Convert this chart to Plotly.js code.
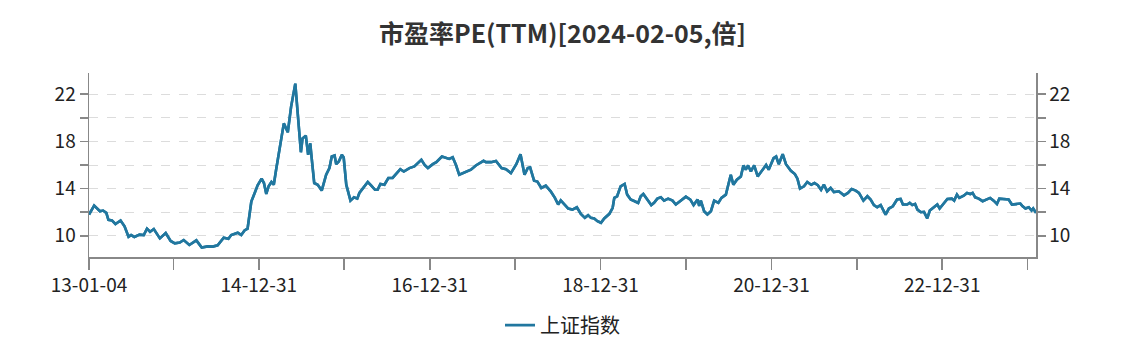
<!DOCTYPE html>
<html>
<head>
<meta charset="utf-8">
<script src="https://cdn.plot.ly/plotly-3.0.1.min.js"></script>
<style>html,body{margin:0;padding:0;background:#fff;}#chart{width:1125px;height:358px;}</style>
</head>
<body>
<div id="chart"></div>
<script>
const dates = [
"2013-01-04","2013-01-26","2013-02-20","2013-03-05","2013-03-19","2013-03-28","2013-04-12","2013-04-27","2013-05-19","2013-06-05",
"2013-06-22","2013-07-03","2013-07-17","2013-08-08","2013-08-26","2013-09-09","2013-09-22","2013-10-08","2013-11-03","2013-11-28",
"2013-12-19","2014-01-06","2014-01-27","2014-02-13","2014-03-09","2014-04-08","2014-05-01","2014-05-26","2014-06-17","2014-07-08",
"2014-08-03","2014-08-23","2014-09-04","2014-10-02","2014-10-17","2014-10-31","2014-11-13","2014-11-29","2014-12-13","2014-12-26",
"2015-01-12","2015-01-22","2015-02-01","2015-02-11","2015-02-23","2015-03-05","2015-03-15","2015-04-03","2015-04-17","2015-05-04",
"2015-05-18","2015-06-05","2015-06-15","2015-06-29","2015-07-06","2015-07-20","2015-07-30","2015-08-08","2015-08-14","2015-08-25",
"2015-09-09","2015-09-26","2015-10-15","2015-10-29","2015-11-08","2015-11-20","2015-11-27","2015-12-08","2015-12-21","2015-12-29",
"2016-01-09","2016-01-27","2016-02-11","2016-02-25","2016-03-05","2016-03-15","2016-04-10","2016-04-24","2016-05-11","2016-05-22",
"2016-06-03","2016-06-20","2016-07-07","2016-07-25","2016-08-16","2016-08-27","2016-09-11","2016-10-05","2016-10-26","2016-11-25",
"2016-12-09","2016-12-23","2017-01-13","2017-01-28","2017-02-21","2017-03-10","2017-03-24","2017-04-08","2017-04-22","2017-05-06",
"2017-05-27","2017-06-11","2017-06-25","2017-07-16","2017-08-04","2017-08-18","2017-08-28","2017-09-19","2017-10-10","2017-10-24",
"2017-11-03","2017-11-22","2017-12-13","2018-01-05","2018-01-23","2018-02-09","2018-02-23","2018-03-05","2018-03-22","2018-04-05",
"2018-04-22","2018-05-11","2018-06-01","2018-06-19","2018-07-03","2018-07-14","2018-07-31","2018-08-15","2018-09-02","2018-09-21",
"2018-10-08","2018-10-25","2018-11-08","2018-11-20","2018-12-04","2018-12-18","2019-01-02","2019-01-16","2019-02-07","2019-02-21",
"2019-02-28","2019-03-12","2019-03-27","2019-04-13","2019-04-24","2019-05-09","2019-05-26","2019-06-10","2019-06-21","2019-07-02",
"2019-07-19","2019-08-05","2019-08-17","2019-08-31","2019-09-15","2019-09-29","2019-10-16","2019-11-04","2019-11-18","2019-12-10",
"2019-12-31","2020-01-19","2020-02-02","2020-02-19","2020-02-26","2020-03-04","2020-03-18","2020-04-01","2020-04-16","2020-04-30",
"2020-05-18","2020-05-31","2020-06-19","2020-06-26","2020-07-10","2020-07-21","2020-08-05","2020-08-22","2020-09-02","2020-09-12",
"2020-09-22","2020-10-04","2020-10-18","2020-11-02","2020-11-16","2020-12-08","2020-12-19","2021-01-09","2021-01-20","2021-01-31",
"2021-02-17","2021-03-03","2021-03-24","2021-04-10","2021-04-21","2021-05-02","2021-05-19","2021-06-02","2021-06-19","2021-07-03",
"2021-07-17","2021-07-31","2021-08-12","2021-08-26","2021-09-10","2021-09-24","2021-10-15","2021-11-06","2021-11-23","2021-12-09",
"2021-12-26","2022-01-09","2022-01-28","2022-02-14","2022-02-28","2022-03-14","2022-03-28","2022-04-12","2022-05-03","2022-05-17",
"2022-06-03","2022-06-21","2022-07-06","2022-07-16","2022-08-03","2022-08-14","2022-08-25","2022-09-06","2022-09-16","2022-10-01",
"2022-10-14","2022-10-28","2022-11-08","2022-11-22","2022-12-10","2022-12-20","2023-01-08","2023-01-22","2023-02-10","2023-02-20",
"2023-03-04","2023-03-14","2023-04-02","2023-04-16","2023-04-30","2023-05-10","2023-05-21","2023-06-05","2023-06-22","2023-07-10",
"2023-07-24","2023-08-08","2023-08-22","2023-09-01","2023-09-24","2023-10-11","2023-10-25","2023-11-16","2023-11-30","2023-12-10",
"2023-12-22","2024-01-05","2024-01-17","2024-01-24","2024-02-05"
];
const peValues = [
11.8,12.56,12.08,12.14,11.94,11.35,11.3,11.0,11.3,10.8,
9.92,10.06,9.9,10.1,10.06,10.6,10.34,10.57,9.78,10.23,
9.56,9.36,9.42,9.64,9.22,9.61,9.0,9.1,9.08,9.19,
9.84,9.75,10.06,10.26,10.06,10.45,10.6,12.9,13.6,14.28,
14.84,14.47,13.55,14.2,14.56,14.33,15.6,17.98,19.53,18.77,
20.93,22.9,20.23,17.08,18.26,18.49,16.86,17.84,16.6,14.47,
14.33,13.83,15.18,15.74,16.72,16.8,16.07,16.3,16.86,16.63,
14.33,12.98,13.26,13.15,13.63,13.9,14.56,14.28,13.9,13.9,
14.4,14.33,14.9,14.9,15.4,15.65,15.45,15.74,15.88,16.44,
16.0,15.74,16.07,16.24,16.72,16.58,16.52,16.66,16.0,15.17,
15.37,15.51,15.6,15.96,16.16,16.35,16.24,16.24,16.35,16.0,
15.74,15.65,15.31,16.07,16.92,15.17,15.74,15.8,14.67,14.6,
14.05,14.25,13.77,13.21,12.65,13.0,12.65,12.3,12.22,12.42,
11.86,11.52,11.75,11.52,11.47,11.24,11.1,11.47,11.86,12.37,
13.21,13.35,14.19,14.39,13.49,13.07,12.93,12.79,13.35,13.54,
13.07,12.6,12.79,13.15,13.26,12.98,13.15,12.98,12.65,12.98,
13.32,13.07,12.6,13.07,12.54,12.98,12.08,11.8,12.08,12.98,
12.79,13.21,13.49,14.05,15.17,14.33,14.75,15.03,15.96,15.6,
15.96,15.45,15.96,15.03,15.45,16.0,15.6,16.58,16.72,16.07,
16.92,16.07,15.51,15.23,14.84,14.0,14.19,14.56,14.33,14.47,
14.28,13.9,14.33,13.77,14.05,13.71,13.77,13.43,13.63,13.97,
13.83,13.63,12.98,13.35,13.07,12.6,12.42,12.6,11.8,12.31,
12.5,13.07,13.12,12.65,12.65,12.79,12.6,12.7,12.22,12.0,
12.03,11.47,12.14,12.37,12.65,12.31,12.79,13.12,13.15,12.98,
13.49,13.21,13.4,13.63,13.54,13.63,13.26,13.15,12.93,13.07,
13.21,12.98,12.7,13.15,13.12,13.07,12.65,12.7,12.73,12.5,
12.31,12.42,12.14,12.31,11.94
];
const xTickVals = ["2013-01-04","2013-12-31","2014-12-31","2015-12-31","2016-12-31","2017-12-31","2018-12-31","2019-12-31","2020-12-31","2021-12-31","2022-12-31","2023-12-31"];
const xTickText = ["13-01-04","","14-12-31","","16-12-31","","18-12-31","","20-12-31","","22-12-31",""];
const yTickVals = [10,12,14,16,18,20,22];
const yTickText = ["10","","14","","18","","22"];
const seriesName = "上证指数";
const titleText = "市盈率PE(TTM)[2024-02-05,倍]";

const lineColor = "#21779f";
const axisColor = "#888888";
const fontFam = "'Noto Sans CJK SC', 'Noto Sans', sans-serif";

const traces = [
  {x: dates, y: peValues, type: "scatter", mode: "lines", name: seriesName,
   line: {color: lineColor, width: 2.6}, xaxis: "x", yaxis: "y"},
  {x: dates, y: peValues, type: "scatter", mode: "lines", name: seriesName, showlegend: false,
   hoverinfo: "skip", line: {color: lineColor, width: 2.6}, xaxis: "x", yaxis: "y2"}
];

const yCommon = {
  range: [8.2, 23.8], tickmode: "array", tickvals: yTickVals, ticktext: yTickText,
  ticks: "outside", ticklen: 8, tickwidth: 1.5, tickcolor: axisColor,
  showline: true, linecolor: axisColor, linewidth: 1.5,
  tickfont: {size: 19, color: "#222", family: fontFam}, zeroline: false, fixedrange: true
};

const layout = {
  width: 1125, height: 358,
  margin: {l: 89, r: 89, t: 73, b: 101},
  paper_bgcolor: "#fff", plot_bgcolor: "#fff",
  title: {text: "<b>" + titleText + "</b>", x: 0.5, xanchor: "center", y: 0.905, yref: "container", yanchor: "middle",
          font: {size: 25, color: "#333", family: fontFam}},
  xaxis: {type: "date", range: ["2013-01-04", "2024-02-05"], tickmode: "array", tickvals: xTickVals, ticktext: xTickText,
          ticks: "outside", ticklen: 11, tickwidth: 1.5, tickcolor: axisColor,
          showline: true, linecolor: axisColor, linewidth: 1.5, showgrid: false, zeroline: false,
          tickfont: {size: 19, color: "#222", family: fontFam}, tickangle: 0},
  yaxis: Object.assign({}, yCommon, {side: "left", showgrid: true, gridcolor: "#dcdcdc", griddash: "dash", gridwidth: 1}),
  yaxis2: Object.assign({}, yCommon, {side: "right", overlaying: "y", showgrid: false}),
  showlegend: true,
  legend: {orientation: "h", x: 0.5, xanchor: "center", y: -0.37, yanchor: "middle",
           font: {size: 20, color: "#222", family: fontFam}}
};

Plotly.newPlot("chart", traces, layout, {displayModeBar: false, staticPlot: true});
</script>
</body>
</html>
